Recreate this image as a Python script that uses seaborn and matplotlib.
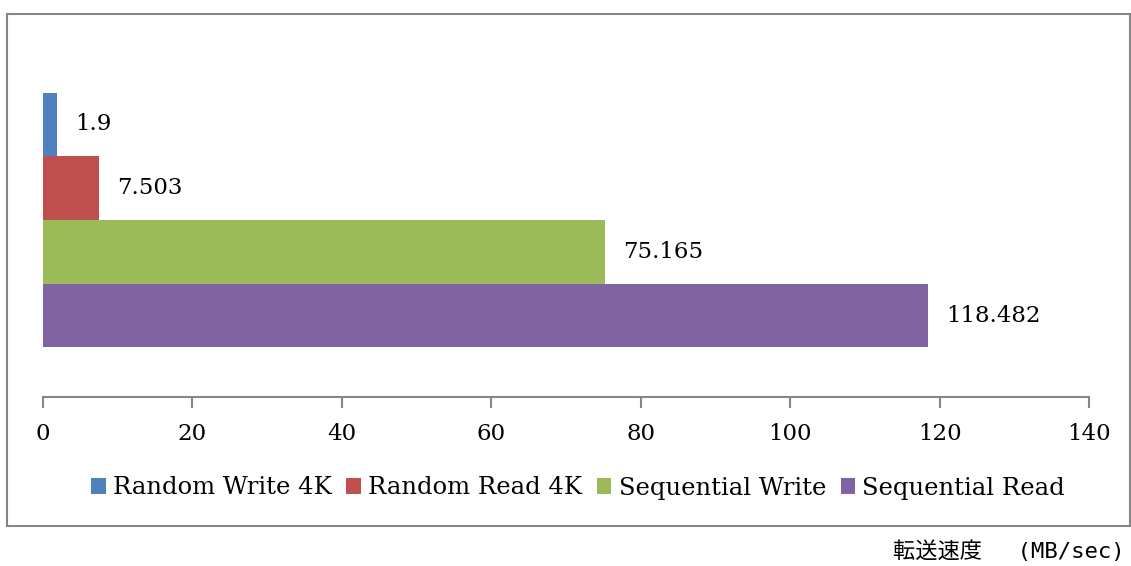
import matplotlib
matplotlib.use("Agg")
import matplotlib.pyplot as plt
import seaborn as sns
import pandas as pd
from matplotlib.patches import Rectangle

series = ["Random Write 4K", "Random Read 4K", "Sequential Write", "Sequential Read"]
values = [1.9, 7.503, 75.165, 118.482]
colors = ["#4F81BD", "#C0504D", "#9BBB59", "#8064A2"]
xticks = [0, 20, 40, 60, 80, 100, 120, 140]
unit_label = "転送速度　 (MB/sec)"

df = pd.DataFrame({"group": ["g"] * len(series), "series": series, "value": values})

sns.set_theme(style="white")
plt.rcParams["font.family"] = ["DejaVu Serif", "Noto Sans CJK JP"]
plt.rcParams["text.color"] = "black"

fig = plt.figure(figsize=(11.31, 5.66), dpi=100)
ax = fig.add_axes([43 / 1131, (566 - 397) / 566, (1089 - 43) / 1131, (397 - 43) / 566])

sns.barplot(data=df, x="value", y="group", hue="series", hue_order=series,
            palette=colors, orient="h", width=0.72, dodge=True, saturation=1,
            ax=ax, legend=True, linewidth=0)

for cont in ax.containers:
    ax.bar_label(cont, fmt="%g", padding=13, fontsize=16.5, color="black")

ax.set_xlim(0, 140)
ax.set_ylim(0.5, -0.5)
ax.set_xticks(xticks)
ax.set_xticklabels([str(t) for t in xticks], fontsize=16.5, color="black")
ax.set_yticks([])
ax.set_xlabel("")
ax.set_ylabel("")
for s in ["left", "right", "top"]:
    ax.spines[s].set_visible(False)
ax.spines["bottom"].set_color("#868686")
ax.spines["bottom"].set_linewidth(1.5)
ax.tick_params(axis="x", bottom=True, direction="out", length=8, width=1.5,
               color="#868686", pad=11, labelcolor="black")

handles, labels = ax.get_legend_handles_labels()
ax.get_legend().remove()
leg = fig.legend(handles, labels, loc="center", bbox_to_anchor=(578 / 1131, (566 - 488) / 566),
                 ncol=4, frameon=False, fontsize=17.5, handlelength=0.6, handleheight=0.6,
                 handletextpad=0.3, columnspacing=0.6, borderaxespad=0)
for t in leg.get_texts():
    t.set_color("black")

fig.patches.append(Rectangle((7 / 1131, 40 / 566), 1123 / 1131, 512 / 566,
                             transform=fig.transFigure, fill=False,
                             edgecolor="#868686", linewidth=1.5))

fig.text(1125 / 1131, (566 - 551) / 566, unit_label, ha="right", va="center",
         fontsize=16, color="black", family=["DejaVu Sans Mono", "Noto Sans CJK JP"])

fig.savefig("out.png", dpi=100)
